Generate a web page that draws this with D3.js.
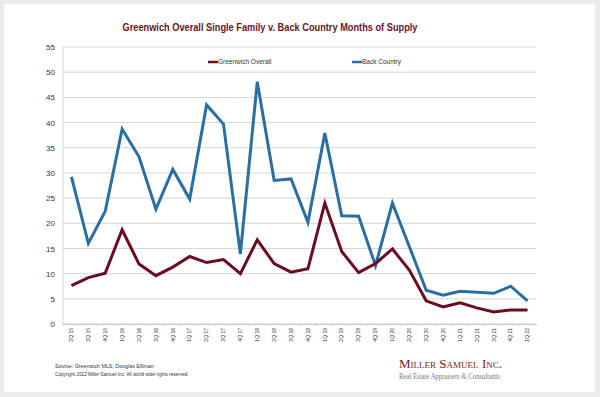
<!DOCTYPE html>
<html>
<head>
<meta charset="utf-8">
<script src="https://cdn.jsdelivr.net/npm/d3@7"></script>
<style>
body { margin: 0; background: #ececec; }
svg { display: block; }
</style>
</head>
<body>
<svg id="graph"></svg>
<script>
var width = 600, height = 397;

var quarters = ["2Q 15","3Q 15","4Q 15","1Q 16","2Q 16","3Q 16","4Q 16","1Q 17","2Q 17","3Q 17","4Q 17",
	"1Q 18","2Q 18","3Q 18","4Q 18","1Q 19","2Q 19","3Q 19","4Q 19","1Q 20","2Q 20","3Q 20","4Q 20",
	"1Q 21","2Q 21","3Q 21","4Q 21","1Q 22"];

var greenwich = [7.6, 9.2, 10.1, 18.7, 11.9, 9.6, 11.3, 13.4, 12.2, 12.8, 10.0,
	16.7, 12.0, 10.3, 11.0, 24.0, 14.4, 10.2, 12.0, 14.9, 10.7, 4.6, 3.4,
	4.2, 3.2, 2.4, 2.8, 2.8];

var backCountry = [29.2, 16.0, 22.4, 38.7, 33.2, 22.8, 30.7, 24.8, 43.5, 39.7, 13.9,
	48.1, 28.5, 28.8, 20.2, 37.9, 21.5, 21.4, 11.6, 24.0, 15.4, 6.7, 5.7,
	6.5, 6.3, 6.1, 7.5, 4.6];

var yTicks = d3.range(0, 56, 5);

var maroon = "#6b0d1f", blue = "#2a6fa3";

var svg = d3.select("#graph").attr("width", width).attr("height", height);

// white card
svg.append("rect").attr("x", 4).attr("y", 4).attr("width", 591).attr("height", 388).attr("fill", "#fff");

var plotLeft = 63, plotRight = 536, plotTop = 47, plotBottom = 324;

var xScale = d3.scaleBand().domain(quarters).range([plotLeft, plotRight]);
var yScale = d3.scaleLinear().domain([0, 55]).range([plotBottom, plotTop]);

var plot = svg.append("g");

// grid
plot.append("g").selectAll("line").data(yTicks).enter().append("line")
	.attr("x1", plotLeft).attr("x2", plotRight)
	.attr("y1", function(d){return yScale(d)}).attr("y2", function(d){return yScale(d)})
	.style("stroke", "#d6d6d6").style("stroke-width", 1);

// y axis
var yAxis = d3.axisLeft(yScale).tickValues(yTicks).tickSize(0).tickPadding(8);
var yg = plot.append("g").attr("transform", "translate(" + plotLeft + ",0)").call(yAxis);
yg.select(".domain").remove();
yg.selectAll("text").style("font-family", "Liberation Sans, Arial").style("font-size", "8px").style("fill", "#333");

plot.append("line").attr("x1", plotLeft).attr("x2", plotLeft).attr("y1", plotTop).attr("y2", plotBottom)
	.style("stroke", "#d6d6d6");

// x axis
var xAxis = d3.axisBottom(xScale).tickSize(0).tickPadding(0);
var xg = plot.append("g").attr("transform", "translate(0," + plotBottom + ")").call(xAxis);
xg.select(".domain").style("stroke", "#c8c8c8");
xg.selectAll("text")
	.attr("transform", "rotate(-90)")
	.attr("x", -4).attr("y", 0).attr("dy", "0.35em")
	.style("text-anchor", "end")
	.style("font-family", "Liberation Sans, Arial").style("font-size", "5px").style("fill", "#333");

// boundary ticks
plot.append("g").selectAll("line").data(quarters.concat(["end"])).enter().append("line")
	.attr("x1", function(d, i){return plotLeft + i * xScale.bandwidth()})
	.attr("x2", function(d, i){return plotLeft + i * xScale.bandwidth()})
	.attr("y1", plotBottom).attr("y2", plotBottom + 2)
	.style("stroke", "#c8c8c8");

var pathGenerator = d3.line()
	.x(function(d, i){return xScale(quarters[i]) + xScale.bandwidth() / 2})
	.y(function(d){return yScale(d)});

plot.append("path").datum(backCountry)
	.attr("d", pathGenerator)
	.style("stroke", blue).style("stroke-width", 3).style("fill", "none")
	.style("stroke-linejoin", "miter");

plot.append("path").datum(greenwich)
	.attr("d", pathGenerator)
	.style("stroke", maroon).style("stroke-width", 3).style("fill", "none")
	.style("stroke-linejoin", "miter");

// title
svg.append("text").attr("x", 270).attr("y", 31).attr("text-anchor", "middle")
	.style("font-family", "Liberation Sans, Arial").style("font-weight", "bold")
	.style("font-size", "10px").style("fill", "#6b1424")
	.attr("textLength", 295).attr("lengthAdjust", "spacingAndGlyphs")
	.text("Greenwich Overall Single Family v. Back Country Months of Supply");

// legend
var legend = [{name: "Greenwich Overall", color: maroon, x: 208}, {name: "Back Country", color: blue, x: 352}];
var lg = svg.append("g").selectAll("g").data(legend).enter().append("g")
	.attr("transform", function(d){return "translate(" + d.x + ",62)"});
lg.append("line").attr("x1", 0).attr("x2", 10).attr("y1", 0).attr("y2", 0)
	.style("stroke", function(d){return d.color}).style("stroke-width", 2.5);
lg.append("text").attr("x", 10).attr("y", 2.3)
	.style("font-family", "Liberation Sans, Arial").style("font-size", "6.5px").style("fill", "#333")
	.text(function(d){return d.name});

// footer
svg.append("text").attr("x", 55).attr("y", 368)
	.style("font-family", "Liberation Sans, Arial").style("font-size", "5.3px").style("fill", "#333")
	.text("Source: Greenwich MLS, Douglas Elliman");
svg.append("text").attr("x", 55).attr("y", 376)
	.style("font-family", "Liberation Sans, Arial").style("font-size", "4.7px").style("fill", "#333")
	.text("Copyright 2022 Miller Samuel Inc.  All world wide rights reserved.");

svg.append("text").attr("x", 399).attr("y", 368)
	.style("font-family", "Liberation Serif, Times New Roman").style("font-size", "13px")
	.style("font-variant", "small-caps").style("fill", "#7a1a26")
	.attr("textLength", 103).attr("lengthAdjust", "spacingAndGlyphs")
	.text("Miller Samuel Inc.");
svg.append("text").attr("x", 399).attr("y", 379)
	.style("font-family", "Liberation Serif, Times New Roman").style("font-size", "7.2px")
	.style("fill", "#777")
	.attr("textLength", 101).attr("lengthAdjust", "spacingAndGlyphs")
	.text("Real Estate Appraisers & Consultants");
</script>
</body>
</html>
